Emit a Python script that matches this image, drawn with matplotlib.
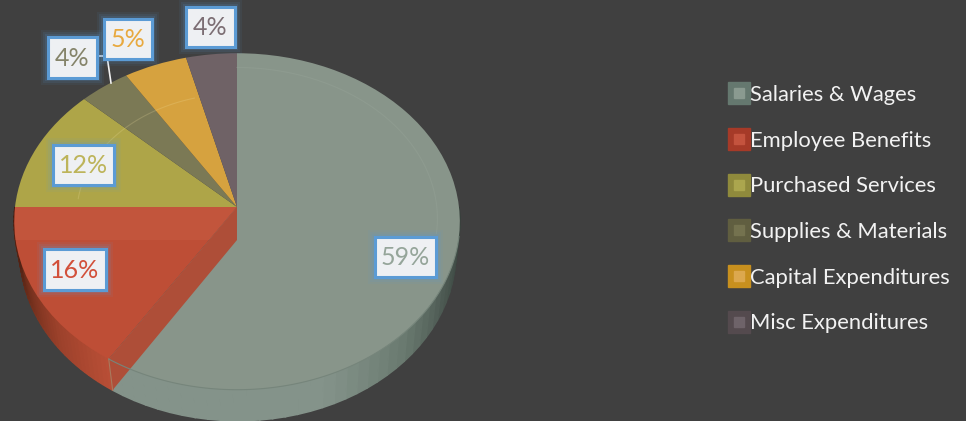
import numpy as np
import matplotlib
matplotlib.use("Agg")
import matplotlib.pyplot as plt
from matplotlib.lines import Line2D
from matplotlib.legend_handler import HandlerTuple
from matplotlib.patches import Rectangle
from matplotlib.transforms import Transform

categories = ["Salaries & Wages", "Employee Benefits", "Purchased Services",
              "Supplies & Materials", "Capital Expenditures", "Misc Expenditures"]
values = [59, 16, 12, 4, 5, 4]

top_colors = ["#88958A", "#BE4E36", "#AEA548", "#7B7955", "#D6A23F", "#6F6266"]
legend_colors = ["#65786F", "#A63A28", "#8F8A3C", "#605E40", "#C8901E", "#544A4E"]
legend_inner = ["#8A9A90", "#C4533E", "#ABA64E", "#74724F", "#DCA84E", "#6E6369"]
label_colors = ["#95A59A", "#D2503A", "#BDB45A", "#85846A", "#E8A93F", "#7C6E74"]

# x, y, w, h of the label boxes in pixels
label_boxes = [(375, 237, 61, 40), (44, 249, 62, 41), (53, 145, 61, 40),
               (48, 37, 49, 41), (104, 19, 48, 40), (186, 7, 49, 40)]

BG = "#404040"
CX, CY, RX, RY, K = 237, 207, 222, 167, 0.086
DEPTH = 33


def project(x, y, rx=RX, ry=RY, cx=CX, cy=CY):
    # tilted circle: the near half of the pie is drawn bigger than the far half
    d = 1 + K * y
    return cx + rx * x / d, cy - ry * y / d


class TiltTransform(Transform):
    input_dims = 2
    output_dims = 2
    is_separable = False

    def transform_non_affine(self, values):
        values = np.asarray(values)
        return np.column_stack(project(values[:, 0], values[:, 1]))


def rim(theta, r=1.0):
    t = np.radians(theta)
    return project(r * np.sin(t), r * np.cos(t))


def low_rim(theta):
    t = np.radians(theta)
    return project(np.sin(t), np.cos(t), rx=217, cx=238, cy=CY + DEPTH - 2)


fig = plt.figure(figsize=(9.66, 4.21), dpi=100, facecolor=BG)
ax = fig.add_axes([0, 0, 1, 1])

wedges, _ = ax.pie(values, colors=top_colors, startangle=90, counterclock=False)
for w in wedges:
    w.set_transform(TiltTransform() + ax.transData)
    w.set_zorder(3)
    w.set_edgecolor("none")

ax.set_aspect("auto")
ax.set_xlim(0, 966)
ax.set_ylim(421, 0)
ax.set_facecolor(BG)
ax.axis("off")

# outer wall, cut into strips for the shading
split = 360 * values[0] / 100
split2 = 360 * (values[0] + values[1]) / 100


def wall(start, end, pos, cols):
    rgb = np.array([matplotlib.colors.to_rgb(c) for c in cols])
    edges = np.linspace(start, end, 40)
    for a, b in zip(edges[:-1], edges[1:]):
        xa, ya = rim(a)
        xb, yb = rim(b)
        xc, yc = low_rim(b)
        xd, yd = low_rim(a)
        f = (a - start) / (end - start)
        col = [np.interp(f, pos, rgb[:, i]) for i in range(3)]
        ax.fill([xa, xb, xc, xd], [ya, yb, yc, yd], facecolor=col, edgecolor=col,
                lw=1.2, zorder=1)


wall(90, split, [0, 0.2, 0.36, 0.55, 1],
     ["#343E39", "#4C5952", "#6A7A70", "#84938A", "#84938A"])
wall(split, split2, [0, 0.3, 0.65, 1],
     ["#B84E36", "#9C412B", "#6A2C1A", "#3A1A10"])

# inner cut of the red slice, seen through the grey top
xr, yr = rim(split)
xl, yl = low_rim(split)
ax.fill([CX, CX, xl, xr], [CY, CY + DEPTH, yl, yr], color="#AE4E38", lw=0, zorder=4)
ax.plot([xr, xl], [yr, yl], color="#A87A5E", lw=0.8, zorder=5)

# thin lines on the faces
th = np.linspace(100, split, 100)
rx_, ry_ = rim(th)
ax.plot(rx_, ry_, color="#76857B", lw=0.8, zorder=5)
ax.fill_between([CX - 222, CX], CY, CY + 33, color="#D8785A", alpha=0.18, lw=0, zorder=3.5)

# soft bevel inside the faces
th = np.linspace(0, 100, 60)
bx, by = rim(th, 0.9)
ax.plot(bx, by, color="#97A498", lw=0.8, alpha=0.4, zorder=5)
th = np.linspace(split2 + 4, 360 * 0.96 - 2, 60)
bx, by = rim(th, 0.72)
ax.plot(bx, by, color="#F0E0A0", lw=0.8, alpha=0.22, zorder=5)

# leader lines of the two small slices
ax.plot([97, 107, 111], [56, 56, 83], color="#F2F2F2", lw=1.2, zorder=6)

# data labels
for v, col, (x, y, w, h) in zip(values, label_colors, label_boxes):
    for grow, alpha in [(7, 0.07), (5, 0.10), (3, 0.14), (1.5, 0.2)]:
        ax.add_patch(Rectangle((x - grow, y - grow), w + 2 * grow, h + 2 * grow,
                               color="#5B9BD5", alpha=alpha, lw=0, zorder=7))
    ax.add_patch(Rectangle((x, y), w, h, facecolor="#EEF0F3", edgecolor="#5B9BD5",
                           lw=2.2, zorder=8))
    ax.text(x + w / 2, y + h / 2 + 0.5, f"{v}%", color=col, fontsize=18,
            family="Lato", ha="center", va="center", zorder=9)

# legend
handles = []
for c, inner in zip(legend_colors, legend_inner):
    handles.append((Line2D([], [], marker="s", ls="", color=c, markersize=15.5),
                    Line2D([], [], marker="s", ls="", color=inner, markersize=7)))
ax.legend(handles, categories, loc="upper left", bbox_to_anchor=(725, 85),
          bbox_transform=ax.transData, frameon=False, borderpad=0, borderaxespad=0,
          handlelength=1.3, handletextpad=-0.14, labelspacing=1.17,
          prop={"family": "Lato", "size": 15.8}, labelcolor="#F2F2F2",
          handler_map={tuple: HandlerTuple(ndivide=1, pad=0)})

fig.savefig("out.png", dpi=100, facecolor=BG)
